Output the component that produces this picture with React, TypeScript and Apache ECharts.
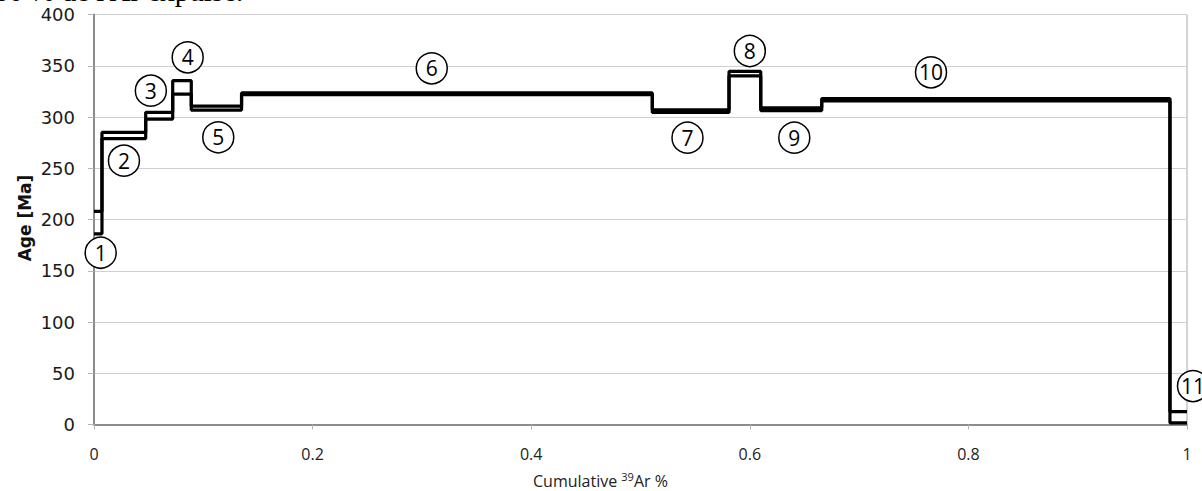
import React, { useEffect, useRef } from "react";
import * as echarts from "echarts";

// Step boundaries (cumulative 39Ar fraction)
const boundaries = [0, 0.0073, 0.0473, 0.072, 0.089, 0.135, 0.5108, 0.581, 0.61, 0.6658, 0.9844, 1.0];
// Upper and lower age limits of each step [Ma]
const ageHigh = [208, 285, 304.6, 335.4, 310.7, 323.5, 307, 344.5, 309, 318, 12.5];
const ageLow = [186, 279, 298, 322.4, 306.8, 321.8, 304.5, 340.2, 306.3, 315.6, 1.5];
// Step numbers and where their circled labels sit (data units)
const stepNames = ["1", "2", "3", "4", "5", "6", "7", "8", "9", "10", "11"];
const labelX = [0.0061, 0.0274, 0.052, 0.0857, 0.1137, 0.309, 0.543, 0.6, 0.6407, 0.7658, 1.0055];
const labelY = [167.6, 257.4, 325.7, 358.2, 280.2, 347.5, 279.8, 364.4, 279.8, 343.6, 37.5];

function stepData(ages: number[]) {
  return boundaries.map((b, i) => [b, ages[Math.min(i, ages.length - 1)]]);
}

export default function App() {
  const ref = useRef<HTMLDivElement>(null);
  useEffect(() => {
    if (!ref.current) return;
    const chart = echarts.init(ref.current, undefined, { renderer: "svg" });
    const lineStyle = { color: "#000", width: 3.2 };
    chart.setOption({
      animation: false,
      backgroundColor: "#fff",
      grid: {
        left: 94,
        right: 15,
        top: 14.5,
        bottom: 66.5,
        show: true,
        borderColor: "#a8a8a8",
        borderWidth: 1,
      },
      xAxis: {
        type: "value",
        min: 0,
        max: 1,
        interval: 0.2,
        axisLine: { show: true, onZero: false, lineStyle: { color: "#8c8c8c", width: 2 } },
        axisTick: { show: true, length: 5, lineStyle: { color: "#b4b4b4" } },
        axisLabel: { margin: 21, fontSize: 16, fontFamily: "Open Sans", color: "#222" },
        splitLine: { show: false },
      },
      yAxis: {
        type: "value",
        min: 0,
        max: 400,
        interval: 50,
        axisLine: { show: true, lineStyle: { color: "#8c8c8c", width: 2 } },
        axisTick: { show: true, length: 6, lineStyle: { color: "#b4b4b4" } },
        axisLabel: { margin: 19, fontSize: 18, fontFamily: "DejaVu Sans", color: "#1a1a1a" },
        splitLine: { show: true, lineStyle: { color: "#d0d0d0", width: 1 } },
      },
      series: [
        {
          type: "line",
          step: "end",
          data: stepData(ageHigh),
          symbol: "none",
          lineStyle,
          z: 3,
        },
        {
          type: "line",
          step: "end",
          data: stepData(ageLow),
          symbol: "none",
          lineStyle,
          z: 3,
        },
        {
          type: "scatter",
          clip: false,
          z: 5,
          symbol: "circle",
          symbolSize: 31,
          itemStyle: { color: "#fff", borderColor: "#000", borderWidth: 1.5, opacity: 1 },
          label: {
            show: true,
            position: "inside",
            formatter: (p: any) => p.name,
            fontSize: 21,
            fontFamily: "Open Sans",
            color: "#000",
          },
          data: stepNames.map((n, i) => ({ name: n, value: [labelX[i], labelY[i]] })),
        },
      ],
      graphic: [
        {
          type: "text",
          x: -6,
          y: 5,
          style: {
            text: "80 % de l'Ar expulsé.",
            font: "29px 'Liberation Serif'",
            fill: "#000",
            verticalAlign: "bottom",
            align: "left",
          },
        },
        {
          type: "text",
          x: 25,
          y: 218,
          rotation: Math.PI / 2,
          style: {
            text: "Age [Ma]",
            font: "bold 17px 'DejaVu Sans'",
            fill: "#111",
            align: "center",
            verticalAlign: "middle",
          },
        },
        {
          type: "text",
          x: 533,
          y: 471,
          style: {
            text: "{a|Cumulative }{s|39}{a|Ar %}",
            fill: "#222",
            rich: {
              a: { fontSize: 16, fontFamily: "Open Sans", lineHeight: 20, fill: "#222" },
              s: { fontSize: 11, fontFamily: "Open Sans", lineHeight: 12, verticalAlign: "top", fill: "#222" },
            },
          },
        },
      ],
    });
    return () => chart.dispose();
  }, []);
  return (
    <div
      ref={ref}
      style={{ position: "fixed", left: 0, top: 0, width: 1202, height: 491 }}
    />
  );
}
